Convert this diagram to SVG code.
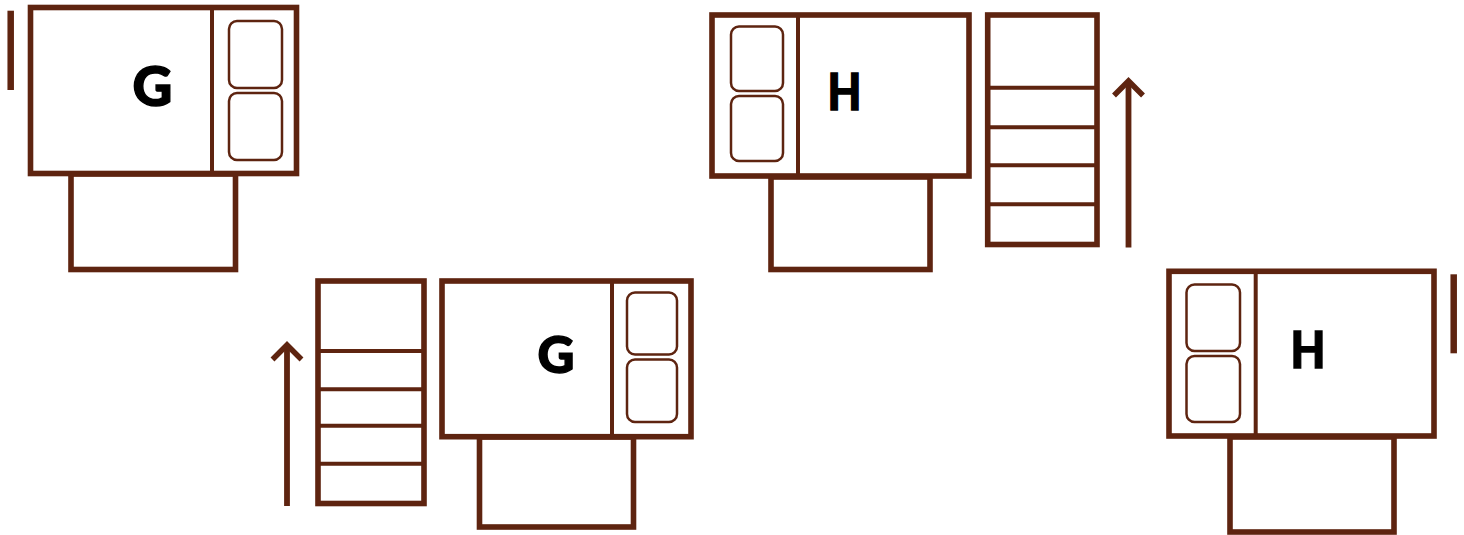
<svg xmlns="http://www.w3.org/2000/svg" width="1464" height="535" viewBox="0 0 1464 535">
<style>
.w{fill:none;stroke:#5e2410;stroke-width:5.600}
.d{fill:none;stroke:#5e2410;stroke-width:4}
.t{fill:none;stroke:#5e2410;stroke-width:2.500}
.l{fill:#000;stroke:#000;stroke-width:1.400;font-family:"Lato","Liberation Sans",sans-serif;font-weight:900;font-size:54px;text-anchor:middle}
</style>
<defs>
<marker id="open" markerUnits="userSpaceOnUse" markerWidth="40" markerHeight="40" viewBox="0 0 40 40" refX="20" refY="4" orient="0" overflow="visible"><path d="M5.500 18.500L20 4L34.500 18.500" fill="none" stroke="#5e2410" stroke-width="5.500" stroke-linecap="butt"/></marker>
</defs>
<rect width="1464" height="535" fill="#fff"/>
<g id="unit-g1">
<rect class="w" x="71" y="174" width="164.500" height="95.500"/>
<rect class="w" x="30.500" y="7.500" width="266" height="166" style="fill:#fff"/>
<line class="d" x1="212" y1="8" x2="212" y2="173"/>
<rect class="t" x="229" y="21" width="53" height="67" rx="8"/>
<rect class="t" x="229" y="93" width="53" height="67" rx="8"/>
<text class="l" x="152.500" y="105.500" style="font-size:55px">G</text>
</g>
<g id="unit-g2">
<rect class="w" x="479.500" y="437" width="154" height="90"/>
<rect class="w" x="442" y="281" width="249" height="155.700" style="fill:#fff"/>
<line class="d" x1="612" y1="281" x2="612" y2="436"/>
<rect class="t" x="627" y="292.500" width="50" height="62" rx="8"/>
<rect class="t" x="627" y="359.500" width="50" height="62.500" rx="8"/>
<text class="l" x="556" y="373" style="font-size:51px">G</text>
</g>
<g id="unit-h1">
<rect class="w" x="771" y="177" width="159" height="92.500"/>
<rect class="w" x="712" y="15" width="257" height="161" style="fill:#fff"/>
<line class="d" x1="798" y1="15" x2="798" y2="176"/>
<rect class="t" x="731" y="26.500" width="52" height="64.500" rx="8"/>
<rect class="t" x="731" y="96" width="52" height="65" rx="8"/>
<text class="l" x="844.500" y="109.800" style="font-size:52px" textLength="34" lengthAdjust="spacingAndGlyphs">H</text>
</g>
<g id="unit-h2">
<rect class="w" x="1230" y="437" width="164" height="95"/>
<rect class="w" x="1169" y="271.300" width="265" height="164.700" style="fill:#fff"/>
<line class="d" x1="1255.700" y1="271" x2="1255.700" y2="436"/>
<rect class="t" x="1186.500" y="284.500" width="53.500" height="66.500" rx="8"/>
<rect class="t" x="1186.500" y="356" width="53.500" height="66" rx="8"/>
<text class="l" x="1308" y="368" style="font-size:52px" textLength="35" lengthAdjust="spacingAndGlyphs">H</text>
</g>
<g id="stair-left">
<rect class="w" x="318" y="281" width="106" height="222.500"/>
<path class="d" d="M318 351H424M318 389.300H424M318 425.700H424M318 463.700H424"/>
</g>
<g id="stair-right">
<rect class="w" x="987.700" y="15" width="109.300" height="229.500"/>
<path class="d" d="M988 87.700H1097M988 127.300H1097M988 165.300H1097M988 204.300H1097"/>
</g>
<g id="connectors">
<line x1="287" y1="506" x2="287" y2="345" stroke="#5e2410" stroke-width="5.800" marker-end="url(#open)"/>
<line x1="1128.500" y1="247.500" x2="1128.500" y2="81" stroke="#5e2410" stroke-width="5.800" marker-end="url(#open)"/>
</g>
<g id="bar-left"><line x1="10.700" y1="10.700" x2="10.700" y2="90" stroke="#5e2410" stroke-width="6.500"/></g>
<g id="bar-right"><line x1="1453.700" y1="274.300" x2="1453.700" y2="353.300" stroke="#5e2410" stroke-width="6.500"/></g>
</svg>
